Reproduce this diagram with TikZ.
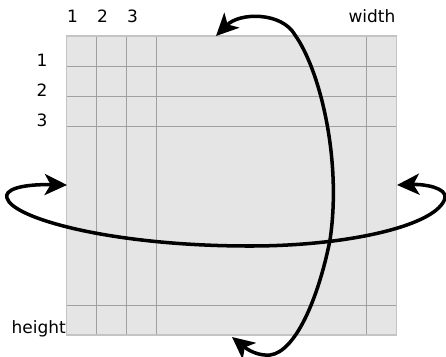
\documentclass[tikz,border=0pt]{standalone}
\usepackage{fontspec}
\setmainfont{DejaVu Sans}
\usetikzlibrary{arrows.meta}

\definecolor{cellFill}{HTML}{E5E5E5}
\definecolor{gridEdge}{HTML}{C4C4C4}
\definecolor{gridLine}{HTML}{A0A0A0}

\begin{document}
\begin{tikzpicture}[
    x=0.03cm, y=-0.03cm,
    lbl/.style={font=\fontsize{14.5}{16}\selectfont, inner sep=0pt},
    flip/.style={line width=3pt, {Stealth[length=19pt, width=18pt, inset=5pt]}-{Stealth[length=19pt, width=18pt, inset=5pt]}}
]

% Page size (pixels of the reference)
\useasboundingbox (0,0) rectangle (446,356);

% Image extent
\def\imgLeft{66.7}
\def\imgRight{396.7}
\def\imgTop{36}
\def\imgBottom{335}

% Image area and pixel grid
\fill[cellFill] (\imgLeft,\imgTop) rectangle (\imgRight,\imgBottom);
\foreach \gx in {96.5,126.5,156.5,366.5}
    \draw[gridLine, line width=0.6pt] (\gx,\imgTop) -- (\gx,\imgBottom);
\foreach \gy in {66,96,126,305}
    \draw[gridLine, line width=0.6pt] (\imgLeft,\gy) -- (\imgRight,\gy);
\draw[gridEdge, line width=0.9pt] (\imgLeft,\imgTop) rectangle (\imgRight,\imgBottom);

% Column and row indices
\foreach \i/\cx in {1/72.5,2/102.5,3/132.5}
    \node[lbl] (col\i) at (\cx,16) {\i};
\foreach \i/\ry in {1/60,2/90,3/120}
    \node[lbl] (row\i) at (42,\ry) {\i};
\node[lbl] (widthLbl) at (372,16) {width};
\node[lbl, anchor=east] (heightLbl) at (66,329) {height};

% Arrow tips
\coordinate (tipTop) at (216,36);
\coordinate (tipBottom) at (232,337);
\coordinate (tipLeft) at (67,185);
\coordinate (tipRight) at (397,185);

% Vertical flip
\draw[flip] (tipBottom)
    .. controls (248,350) and (258,356) .. (270,355)
    .. controls (295,352) and (318,300) .. (330,240)
    .. controls (342,160) and (320,70) .. (295,35)
    .. controls (282,12) and (240,12) .. (tipTop);

% Horizontal flip
\draw[flip] (tipLeft)
    .. controls (20,184) and (4,190) .. (7,198)
    .. controls (12,218) and (110,246) .. (250,246)
    .. controls (350,246) and (438,225) .. (445,198)
    .. controls (447,188) and (425,184) .. (tipRight);

\end{tikzpicture}
\end{document}
